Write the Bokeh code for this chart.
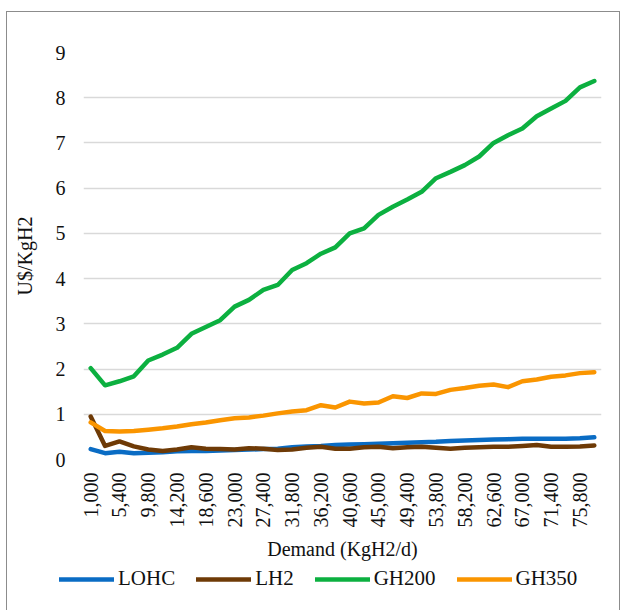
import math

from bokeh.embed import file_html
from bokeh.resources import INLINE
from bokeh.layouts import column
from bokeh.plotting import figure
from bokeh.models import (Range1d, FixedTicker, NumeralTickFormatter, Legend,
                          LegendItem)

# Demand levels (kg H2 per day)
demand = [1000, 3200, 5400, 7600, 9800, 12000, 14200, 16400, 18600, 20800,
          23000, 25200, 27400, 29600, 31800, 34000, 36200, 38400, 40600, 42800,
          45000, 47200, 49400, 51600, 53800, 56000, 58200, 60400, 62600, 64800,
          67000, 69200, 71400, 73600, 75800, 78000]

# Delivery cost by carrier (US$ per kg H2)
lohc = [0.23, 0.14, 0.17, 0.14, 0.15, 0.16, 0.18, 0.19, 0.19, 0.20,
        0.21, 0.22, 0.23, 0.24, 0.27, 0.29, 0.30, 0.32, 0.33, 0.34,
        0.35, 0.36, 0.37, 0.38, 0.39, 0.41, 0.42, 0.43, 0.44, 0.45,
        0.46, 0.46, 0.46, 0.46, 0.47, 0.49]
lh2 = [0.95, 0.30, 0.40, 0.29, 0.22, 0.19, 0.22, 0.27, 0.24, 0.23,
       0.22, 0.25, 0.24, 0.21, 0.22, 0.26, 0.28, 0.24, 0.24, 0.27,
       0.28, 0.25, 0.27, 0.28, 0.26, 0.24, 0.26, 0.27, 0.28, 0.28,
       0.30, 0.32, 0.28, 0.28, 0.29, 0.31]
gh200 = [2.02, 1.64, 1.73, 1.84, 2.19, 2.32, 2.47, 2.78, 2.93, 3.08,
         3.38, 3.53, 3.75, 3.86, 4.19, 4.34, 4.55, 4.69, 5.00, 5.11,
         5.41, 5.59, 5.75, 5.92, 6.22, 6.36, 6.51, 6.70, 7.00, 7.17,
         7.32, 7.59, 7.76, 7.93, 8.23, 8.37]
gh350 = [0.82, 0.63, 0.62, 0.63, 0.66, 0.69, 0.73, 0.78, 0.82, 0.87,
         0.91, 0.93, 0.97, 1.02, 1.06, 1.09, 1.20, 1.15, 1.28, 1.24,
         1.26, 1.40, 1.36, 1.46, 1.45, 1.54, 1.58, 1.63, 1.66, 1.60,
         1.73, 1.77, 1.83, 1.86, 1.91, 1.93]

series_names = ["LOHC", "LH2", "GH200", "GH350"]
series_values = [lohc, lh2, gh200, gh350]
series_colors = ["#0a6cc4", "#6e3a06", "#0cb040", "#fa9500"]

y_ticks = [0, 1, 2, 3, 4, 5, 6, 7, 8, 9]

FONT = "Liberation Serif"
TEXT = "#111111"
LINE_W = 4.5

half_step = (demand[1] - demand[0]) / 2

# ---- main chart -----------------------------------------------------------
p = figure(width=612, height=550, output_backend="svg", toolbar_location=None,
           x_range=Range1d(demand[0] - half_step, demand[-1] + half_step),
           y_range=Range1d(y_ticks[0], y_ticks[-1]),
           min_border_left=76, min_border_right=18,
           min_border_top=40, min_border_bottom=102)
p.outline_line_color = None
p.background_fill_color = "white"
p.border_fill_color = "white"

# x axis: every other demand level labelled, text rotated
p.xaxis.ticker = FixedTicker(ticks=demand[::2])
p.xaxis.formatter = NumeralTickFormatter(format="0,0")
p.xaxis.major_label_orientation = math.pi / 2
p.xaxis.major_tick_out = 0
p.xaxis.major_tick_in = 0
p.xaxis.minor_tick_out = 0
p.xaxis.minor_tick_in = 0
p.xaxis.axis_line_color = None
p.xaxis.major_label_standoff = 13
p.xaxis.axis_label = "Demand (KgH2/d)"
p.xaxis.axis_label_standoff = 7

# y axis
p.yaxis.ticker = FixedTicker(ticks=y_ticks)
p.yaxis.major_tick_out = 0
p.yaxis.major_tick_in = 0
p.yaxis.minor_tick_out = 0
p.yaxis.minor_tick_in = 0
p.yaxis.axis_line_color = None
p.yaxis.major_label_standoff = 18
p.yaxis.axis_label = "U$/KgH2"
p.yaxis.axis_label_standoff = 17

for ax in (p.xaxis, p.yaxis):
    ax.major_label_text_font = FONT
    ax.major_label_text_font_size = "20px"
    ax.major_label_text_color = TEXT
    ax.axis_label_text_font = FONT
    ax.axis_label_text_font_size = "20px"
    ax.axis_label_text_font_style = "normal"
    ax.axis_label_text_color = TEXT

p.xgrid.grid_line_color = None
p.ygrid.ticker = FixedTicker(ticks=y_ticks)
p.ygrid.grid_line_color = "#d9d9d9"
p.ygrid.grid_line_width = 1.6

for vals, color in zip(series_values, series_colors):
    p.line(demand, vals, line_color=color, line_width=LINE_W,
           line_join="round", line_cap="round")

# ---- legend strip ---------------------------------------------------------
key = figure(width=612, height=48, output_backend="svg", toolbar_location=None,
             x_axis_type=None, y_axis_type=None, frame_align=False,
             min_border_left=0, min_border_right=0,
             min_border_top=0, min_border_bottom=0)
key.outline_line_color = None
key.xgrid.grid_line_color = None
key.ygrid.grid_line_color = None
key.border_fill_color = "white"
key.background_fill_color = "white"

items = []
for name, vals, color in zip(series_names, series_values, series_colors):
    r = key.line(demand, vals, line_color=color, line_width=LINE_W,
                 line_cap="round", visible=False)
    items.append(LegendItem(label=name, renderers=[r]))

legend = Legend(items=items, orientation="horizontal", location=(52, 19),
                glyph_width=55, glyph_height=20, label_standoff=4, spacing=21,
                padding=0, margin=0, border_line_color=None,
                background_fill_alpha=0,
                label_text_font=FONT, label_text_font_size="21px",
                label_text_color=TEXT)
key.add_layout(legend, "center")

# whole chart framed by a thin grey border
layout = column(p, key, spacing=0,
                styles={"margin-left": "6px", "margin-top": "11px",
                        "border-left": "1.5px solid #8c8c8c",
                        "border-top": "1.5px solid #8c8c8c",
                        "border-right": "1.5px solid #8c8c8c",
                        "background-color": "white"})

open("out.html", "w").write(file_html(layout, INLINE))
